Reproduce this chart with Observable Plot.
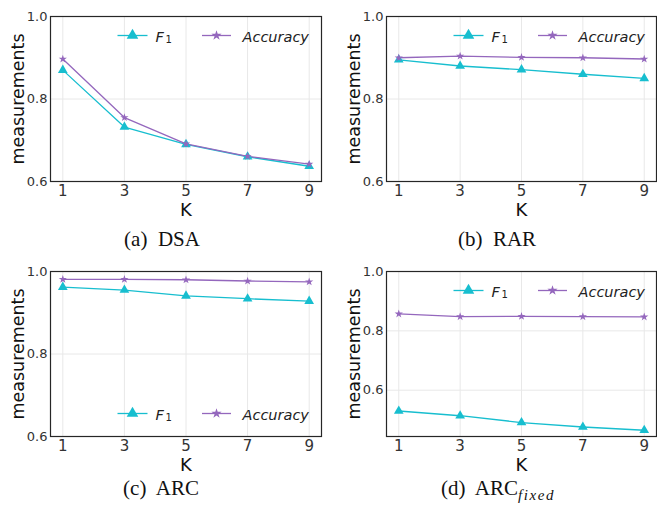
<!DOCTYPE html>
<html>
<head>
<meta charset="utf-8">
<script src="https://cdn.jsdelivr.net/npm/d3@7"></script>
<script src="https://cdn.jsdelivr.net/npm/@observablehq/plot@0.6"></script>
<style>
  html, body { margin: 0; padding: 0; background: #fff; }
  #fig { position: relative; width: 657px; height: 510px; overflow: hidden; background: #fff; }
  .panel { position: absolute; }
  .caption { position: absolute; font-family: "Liberation Serif", "DejaVu Serif", serif; font-size: 21px; line-height: 21px; white-space: pre; text-align: center; color: #111; }
  .caption sub { font-style: italic; font-size: 15px; letter-spacing: 1.6px; vertical-align: -5px; line-height: 0; }
</style>
</head>
<body>
<div id="fig"></div>
<script>
// ---- data ----
const K = [1, 3, 5, 7, 9];
const dsaF1  = [0.870, 0.732, 0.690, 0.660, 0.637];
const dsaAcc = [0.897, 0.755, 0.691, 0.661, 0.642];
const rarF1  = [0.895, 0.880, 0.871, 0.860, 0.850];
const rarAcc = [0.900, 0.904, 0.901, 0.900, 0.897];
const arcF1  = [0.962, 0.955, 0.941, 0.934, 0.928];
const arcAcc = [0.981, 0.981, 0.980, 0.977, 0.975];
const arcFixedF1  = [0.530, 0.514, 0.491, 0.476, 0.465];
const arcFixedAcc = [0.857, 0.848, 0.849, 0.848, 0.847];
const yTicks = [0.6, 0.8, 1.0];
const seriesNames = ["F", "Accuracy"];
const captions = ["(a)  DSA", "(b)  RAR", "(c)  ARC", "(d)  ARC"];

const F1_COLOR = "#17becf";
const ACC_COLOR = "#9467bd";

const hline = {
  draw(ctx, size) {
    const r = Math.sqrt(size / Math.PI);
    ctx.moveTo(-r, 0);
    ctx.lineTo(r, 0);
  }
};

function panel({f1, acc, yDomain, legendY, width, marginRight}) {
  const rows = K.map((k, i) => ({k, f1: f1[i], acc: acc[i]}));
  const tl = {frameAnchor: "top-left"};
  const yt = yTicks.filter(t => t >= yDomain[0]);
  return Plot.plot({
    width, height: 225,
    marginTop: 16, marginBottom: 44, marginLeft: 50, marginRight,
    x: {domain: [0.6, 9.4]},
    y: {domain: yDomain},
    style: {fontFamily: "DejaVu Sans", background: "white", overflow: "visible"},
    marks: [
      Plot.gridX(K, {stroke: "#e8e8e8", strokeOpacity: 1, strokeWidth: 1}),
      Plot.gridY(yt, {stroke: "#e8e8e8", strokeOpacity: 1, strokeWidth: 1}),
      Plot.axisX({ticks: K, tickSize: 0, tickPadding: 4, fontSize: 15, fill: "#333", label: null, tickFormat: d => String(d)}),
      Plot.axisY({ticks: yt, tickSize: 0, tickPadding: 3, fontSize: 13, fill: "#333", label: null, tickFormat: d3.format(".1f")}),
      Plot.frame({stroke: "#262626", strokeWidth: 1.2}),
      Plot.text(["measurements"], {text: d => d, frameAnchor: "left", textAnchor: "middle", dx: -32, rotate: -90, fontSize: 17.5, fill: "#111"}),
      Plot.text(["K"], {text: d => d, frameAnchor: "bottom", textAnchor: "middle", dy: 34, lineAnchor: "bottom", fontSize: 18, fill: "#111"}),
      Plot.line(rows, {x: "k", y: "f1", stroke: F1_COLOR, strokeWidth: 1.3}),
      Plot.line(rows, {x: "k", y: "acc", stroke: ACC_COLOR, strokeWidth: 1.3}),
      Plot.dot(rows, {x: "k", y: "f1", symbol: "triangle", r: 3.6, fill: F1_COLOR, stroke: "none"}),
      Plot.dot(rows, {x: "k", y: "acc", symbol: "star", r: 2.6, fill: ACC_COLOR, stroke: "none"}),
      // legend
      Plot.dot([0], {...tl, dx: 82, dy: legendY, symbol: hline, r: 15, fill: "none", stroke: F1_COLOR, strokeWidth: 1.3}),
      Plot.dot([0], {...tl, dx: 82, dy: legendY, symbol: "triangle", r: 4.3, fill: F1_COLOR, stroke: "none"}),
      Plot.text([seriesNames[0]], {...tl, text: d => d, dx: 105, dy: legendY + 6, textAnchor: "start", lineAnchor: "bottom", fontSize: 14.5, fontStyle: "italic", fill: "#222"}),
      Plot.text(["1"], {...tl, text: d => d, dx: 115, dy: legendY + 7.5, textAnchor: "start", lineAnchor: "bottom", fontSize: 10, fill: "#222"}),
      Plot.dot([0], {...tl, dx: 166, dy: legendY, symbol: hline, r: 14.5, fill: "none", stroke: ACC_COLOR, strokeWidth: 1.3}),
      Plot.dot([0], {...tl, dx: 166, dy: legendY, symbol: "star", r: 3.2, fill: ACC_COLOR, stroke: "none"}),
      Plot.text([seriesNames[1]], {...tl, text: d => d, dx: 192, dy: legendY + 6, textAnchor: "start", lineAnchor: "bottom", fontSize: 14.5, fontStyle: "italic", fill: "#222"})
    ]
  });
}

const fig = document.getElementById("fig");
const specs = [
  {f1: dsaF1, acc: dsaAcc, yDomain: [0.6, 1.0], legendY: 19, left: 0, top: 0, width: 336, marginRight: 15},
  {f1: rarF1, acc: rarAcc, yDomain: [0.6, 1.0], legendY: 19, left: 336, top: 0, width: 321, marginRight: 1},
  {f1: arcF1, acc: arcAcc, yDomain: [0.6, 1.0], legendY: 142, left: 0, top: 255, width: 336, marginRight: 15},
  {f1: arcFixedF1, acc: arcFixedAcc, yDomain: [0.444, 1.0], legendY: 19, left: 336, top: 255, width: 321, marginRight: 1}
];
specs.forEach(s => {
  const div = document.createElement("div");
  div.className = "panel";
  div.style.left = s.left + "px";
  div.style.top = s.top + "px";
  div.appendChild(panel(s));
  fig.appendChild(div);
});

const capPos = [
  {cx: 162, baseline: 247},
  {cx: 497, baseline: 247},
  {cx: 161, baseline: 496},
  {cx: 498, baseline: 496}
];
captions.forEach((c, i) => {
  const d = document.createElement("div");
  d.className = "caption";
  const w = 200;
  d.style.left = (capPos[i].cx - w / 2) + "px";
  d.style.width = w + "px";
  d.style.top = (capPos[i].baseline - 17.6) + "px";
  d.textContent = c;
  if (i === 3) {
    const sub = document.createElement("sub");
    sub.textContent = "fixed";
    d.appendChild(sub);
  }
  fig.appendChild(d);
});
</script>
</body>
</html>
